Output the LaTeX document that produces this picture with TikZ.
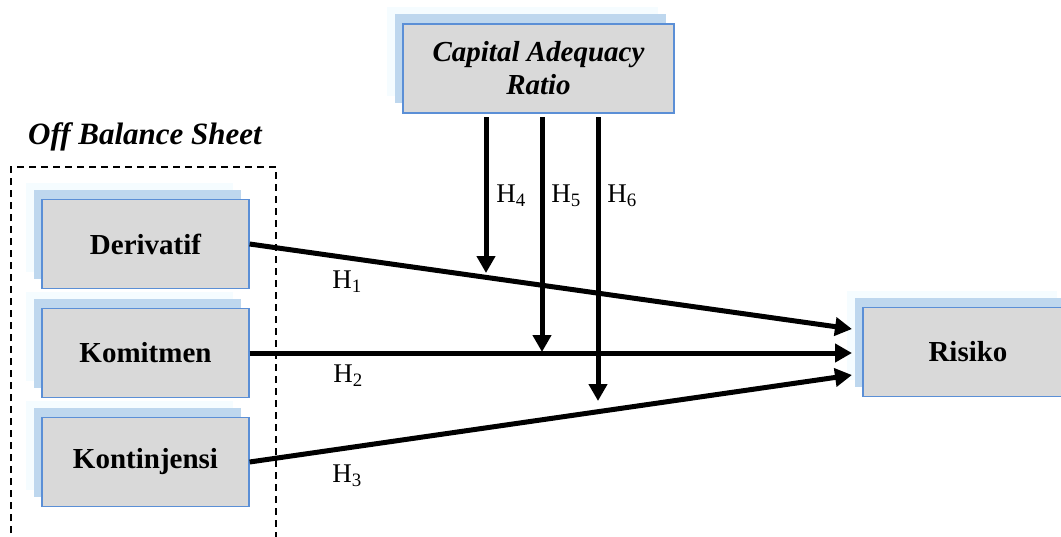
\documentclass[tikz,border=0pt]{standalone}
\usepackage{fontspec}
\setmainfont{Liberation Serif}
\usetikzlibrary{arrows.meta,shadows}
\definecolor{boxfill}{RGB}{217,217,217}
\definecolor{boxline}{RGB}{91,143,214}
\definecolor{shadowblue}{RGB}{190,215,238}
\definecolor{paleglow}{RGB}{245,252,255}
\tikzset{
  varbox/.style={draw=boxline, line width=1.3pt, fill=boxfill, minimum width=#1, minimum height=89pt,
    inner sep=0pt, align=center, font=\fontsize{29}{34}\selectfont\bfseries,
    general shadow={fill=paleglow, shadow xshift=-16pt, shadow yshift=17pt},
    general shadow={fill=shadowblue, shadow xshift=-8pt, shadow yshift=10pt}},
  varbox/.default=207pt,
  hyparrow/.style={line width=5pt, -{Triangle[length=17pt,width=18pt]}},
  hlabel/.style={font=\fontsize{27}{30}\selectfont, inner sep=0pt}
}
\begin{document}
\begin{tikzpicture}[x=1pt,y=-1pt]
\useasboundingbox (0,0) rectangle (1061,536);
% dashed group
\draw[dashed, line width=1.3pt, dash pattern=on 7pt off 5pt] (11,545) -- (11,167) -- (276,167) -- (276,545);
\node[font=\fontsize{31}{34}\selectfont\bfseries\itshape, inner sep=0pt] (obs) at (145,137) {Off Balance Sheet};
% boxes
\node[varbox=271pt, font=\fontsize{29}{33}\selectfont\bfseries\itshape] (car) at (538.5,68.5) {Capital Adequacy\\Ratio};
\node[varbox] (der) at (145.5,244) {Derivatif};
\node[varbox] (kom) at (145.5,353) {Komitmen};
\node[varbox] (kon) at (145.5,462) {Kontinjensi};
\node[varbox=210pt] (ris) at (968,352) {Risiko};
% coordinates
\coordinate (t1) at (852,329);
\coordinate (t2) at (852,353);
\coordinate (t3) at (852,375);
\coordinate (s4) at (486,117);
\coordinate (e4) at (486,273);
\coordinate (s5) at (542,117);
\coordinate (e5) at (542,352);
\coordinate (s6) at (598,117);
\coordinate (e6) at (598,401);
% main arrows
\draw[hyparrow] (der.east) -- (t1);
\draw[hyparrow] (kom.east) -- (t2);
\draw[hyparrow] (kon.east) -- (t3);
% moderating arrows
\draw[hyparrow] (s4) -- (e4);
\draw[hyparrow] (s5) -- (e5);
\draw[hyparrow] (s6) -- (e6);
% labels
\node[hlabel] (h1) at (347,282) {H\textsubscript{1}};
\node[hlabel] (h2) at (348,376) {H\textsubscript{2}};
\node[hlabel] (h3) at (347,476) {H\textsubscript{3}};
\node[hlabel] (h4) at (511,196) {H\textsubscript{4}};
\node[hlabel] (h5) at (566,196) {H\textsubscript{5}};
\node[hlabel] (h6) at (622,196) {H\textsubscript{6}};
\end{tikzpicture}
\end{document}
